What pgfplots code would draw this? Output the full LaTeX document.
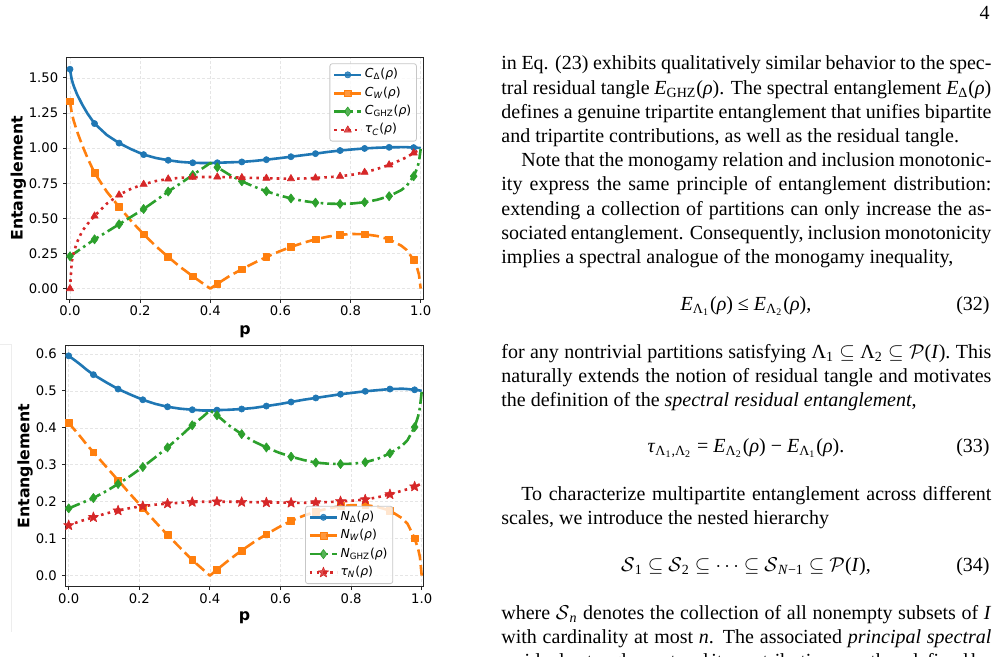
\documentclass[border=0pt]{standalone}
\usepackage{fontspec}
\setmainfont{Liberation Serif}
\newfontfamily\dejavu{DejaVu Sans}
\usepackage{pgfplots}
\usepackage{pgfplotstable}
\pgfplotsset{compat=1.18}

\definecolor{tabblue}{HTML}{1F77B4}
\definecolor{taborange}{HTML}{FF7F0E}
\definecolor{tabgreen}{HTML}{2CA02C}
\definecolor{tabred}{HTML}{D62728}

% filled five-pointed star
\pgfdeclareplotmark{fstar}{%
  \pgfpathmoveto{\pgfpointpolar{90}{\pgfplotmarksize}}%
  \pgfpathlineto{\pgfpointpolar{126}{0.42\pgfplotmarksize}}%
  \pgfpathlineto{\pgfpointpolar{162}{\pgfplotmarksize}}%
  \pgfpathlineto{\pgfpointpolar{198}{0.42\pgfplotmarksize}}%
  \pgfpathlineto{\pgfpointpolar{234}{\pgfplotmarksize}}%
  \pgfpathlineto{\pgfpointpolar{270}{0.42\pgfplotmarksize}}%
  \pgfpathlineto{\pgfpointpolar{306}{\pgfplotmarksize}}%
  \pgfpathlineto{\pgfpointpolar{342}{0.42\pgfplotmarksize}}%
  \pgfpathlineto{\pgfpointpolar{18}{\pgfplotmarksize}}%
  \pgfpathlineto{\pgfpointpolar{54}{0.42\pgfplotmarksize}}%
  \pgfpathclose
  \pgfusepathqfillstroke
}

% concurrence-based measures: p, Delta, W, GHZ, residual tangle
\pgfplotstableread{
p D W G T
0 1.562 1.334 0.230 0.000
0.005 1.488 1.250 0.238 0.190
0.01 1.447 1.200 0.247 0.250
0.02 1.384 1.120 0.264 0.330
0.035 1.310 1.020 0.290 0.410
0.05 1.246 0.930 0.316 0.460
0.07 1.175 0.824 0.351 0.517
0.105 1.094 0.690 0.404 0.605
0.14 1.036 0.582 0.458 0.667
0.175 0.992 0.480 0.512 0.712
0.21 0.954 0.387 0.567 0.743
0.245 0.930 0.302 0.628 0.766
0.28 0.914 0.225 0.691 0.781
0.315 0.902 0.153 0.749 0.789
0.35 0.896 0.088 0.809 0.793
0.38 0.894 0.035 0.860 0.795
0.40 0.894 0.000 0.894 0.795
0.42 0.896 0.034 0.864 0.795
0.455 0.899 0.090 0.810 0.793
0.49 0.902 0.138 0.764 0.790
0.525 0.909 0.183 0.726 0.788
0.56 0.918 0.225 0.693 0.786
0.595 0.928 0.263 0.665 0.784
0.63 0.939 0.297 0.642 0.783
0.665 0.950 0.326 0.624 0.784
0.70 0.961 0.351 0.612 0.788
0.735 0.973 0.370 0.605 0.793
0.77 0.983 0.383 0.603 0.800
0.805 0.991 0.389 0.606 0.811
0.84 0.998 0.387 0.615 0.828
0.875 1.003 0.375 0.632 0.851
0.91 1.006 0.351 0.658 0.881
0.945 1.007 0.305 0.702 0.918
0.96 1.007 0.275 0.732 0.936
0.98 1.004 0.204 0.800 0.966
0.99 1.003 0.145 0.858 0.980
0.995 1.002 0.100 0.902 0.987
1.0 1.000 0.000 0.995 0.995
}\concdata

% negativity-based measures: p, Delta, W, GHZ, residual tangle
\pgfplotstableread{
p D W G T
0 0.595 0.413 0.182 0.136
0.005 0.591 0.407 0.184 0.138
0.01 0.588 0.402 0.186 0.140
0.02 0.581 0.391 0.190 0.143
0.035 0.570 0.374 0.196 0.148
0.05 0.558 0.356 0.202 0.152
0.07 0.544 0.334 0.210 0.158
0.105 0.524 0.296 0.228 0.168
0.14 0.505 0.258 0.248 0.176
0.175 0.490 0.220 0.270 0.183
0.21 0.476 0.183 0.294 0.188
0.245 0.465 0.146 0.320 0.192
0.28 0.457 0.110 0.347 0.195
0.315 0.452 0.076 0.376 0.197
0.35 0.449 0.042 0.407 0.199
0.38 0.447 0.017 0.430 0.200
0.40 0.447 0.000 0.447 0.200
0.42 0.448 0.016 0.434 0.200
0.455 0.449 0.043 0.406 0.200
0.49 0.451 0.068 0.383 0.199
0.525 0.454 0.091 0.363 0.199
0.56 0.459 0.112 0.347 0.198
0.595 0.464 0.131 0.333 0.198
0.63 0.470 0.148 0.322 0.197
0.665 0.476 0.162 0.313 0.197
0.70 0.481 0.173 0.306 0.198
0.735 0.486 0.182 0.303 0.199
0.77 0.491 0.188 0.302 0.201
0.805 0.495 0.191 0.303 0.203
0.84 0.499 0.191 0.307 0.206
0.875 0.502 0.186 0.316 0.212
0.91 0.505 0.176 0.331 0.220
0.945 0.506 0.155 0.352 0.230
0.96 0.505 0.140 0.367 0.234
0.98 0.503 0.101 0.402 0.241
0.99 0.502 0.072 0.432 0.245
0.995 0.501 0.050 0.455 0.247
1.0 0.500 0.000 0.498 0.250
}\negdata

\pgfplotsset{
  /pgf/number format/assume math mode=true,
  mk/.style={mark indices={1,7,9,11,13,15,18,20,22,24,26,28,30,32,35}},
  sD/.style={tabblue, line width=1.3pt, mk, mark=*, mark size=1.55pt,
    mark options={solid, fill=tabblue, line width=0.3pt}},
  sW/.style={taborange, line width=1.3pt, dash pattern=on 5.5pt off 2.4pt, mk,
    mark=square*, mark size=1.7pt, mark options={solid, fill=taborange, line width=0.3pt}},
  sG/.style={tabgreen, line width=1.3pt, dash pattern=on 6pt off 2pt on 1.3pt off 2pt, mk,
    mark=diamond*, mark size=2.3pt, mark options={solid, fill=tabgreen, line width=0.3pt}},
  sT/.style={tabred, line width=1.3pt, dash pattern=on 1.3pt off 2.1pt, mk,
    mark size=2.1pt, mark options={solid, fill=tabred, line width=0.3pt}},
  entaxis/.style={
    scale only axis, anchor=south west,
    axis line style={black!85, line width=0.5pt},
    tick align=outside, tick pos=left,
    major tick length=1.7pt,
    every tick/.style={black!85, line width=0.5pt},
    xtick={0,0.2,0.4,0.6,0.8,1},
    xticklabel style={/pgf/number format/fixed, /pgf/number format/fixed zerofill,
      /pgf/number format/precision=1},
    ticklabel style={font=\dejavu\fontsize{6.6}{7.5}\selectfont},
    yticklabel style={xshift=1pt},
    grid=major, grid style={black!10, line width=0.3pt, dash pattern=on 1.5pt off 1pt},
    label style={font=\dejavu\bfseries\fontsize{7.9}{9}\selectfont},
    xlabel={p}, ylabel={Entanglement},
    every axis plot/.append style={line join=round},
    legend cell align=left,
    legend image code/.code={\draw[mark indices={2}] plot coordinates {(0pt,0pt) (6.8pt,0pt) (13.6pt,0pt)};},
    legend style={font=\dejavu\fontsize{6.2}{7}\selectfont,
      draw=black!22, line width=0.4pt, rounded corners=1.2pt,
      fill=white, fill opacity=0.8, text opacity=1, draw opacity=1,
      inner xsep=1.5pt, inner ysep=1.8pt, row sep=1.7pt,
      nodes={inner xsep=1.1pt, inner ysep=0.6pt, text height=4.6pt, text depth=1.7pt}},
  }
}

% one line of justified body text, and one set at its natural width
\newcommand\jline[2]{\node[anchor=base west, inner sep=0pt] at (250.5pt,#1pt)
  {\fontsize{10}{12}\selectfont\makebox[245pt][s]{#2}};}
\newcommand\nline[2]{\node[anchor=base west, inner sep=0pt] at (250.5pt,#1pt)
  {\fontsize{10}{12}\selectfont #2};}
\newcommand\eqline[3]{%
  \node[anchor=base, inner sep=0pt] at (373pt,#1pt) {\fontsize{10}{12}\selectfont #2};
  \node[anchor=base east, inner sep=0pt] at (495pt,#1pt) {\fontsize{10}{12}\selectfont #3};}

\newcommand\rh{\textit{ρ}}

\begin{document}
\begin{tikzpicture}
\path[use as bounding box] (0pt,0pt) rectangle (499pt,328.5pt);

% faint frame left of the lower panel
\draw[black!7, line width=0.5pt] (0pt,156pt) -- (5.5pt,156pt) -- (5.5pt,12.5pt);

% upper panel: concurrence
\begin{axis}[entaxis,
  at={(33.35pt,178.85pt)}, width=178.3pt, height=121pt,
  xmin=-0.0094, xmax=1.0074, ymin=-0.076, ymax=1.647,
  ytick={0,0.25,0.5,0.75,1,1.25,1.5},
  yticklabel style={/pgf/number format/fixed, /pgf/number format/fixed zerofill,
    /pgf/number format/precision=2},
  xticklabel style={yshift=2pt},
  xlabel style={at={(axis description cs:0.5,-0.132)}, anchor=center},
  ylabel style={at={(axis description cs:-0.1356,0.5)}, anchor=center},
  legend style={at={(axis description cs:0.982,0.975)}, anchor=north east},
]
\addplot[sD] table[x=p,y=D]{\concdata};
\addlegendentry{{\itshape C}\textsubscript{Δ}(\textit{ρ})}
\addplot[sW] table[x=p,y=W]{\concdata};
\addlegendentry{{\itshape C}\textsubscript{\itshape W}(\textit{ρ})}
\addplot[sG] table[x=p,y=G]{\concdata};
\addlegendentry{{\itshape C}\textsubscript{GHZ}(\textit{ρ})}
\addplot[sT, mark=triangle*] table[x=p,y=T]{\concdata};
\addlegendentry{{\itshape τ}\textsubscript{\itshape C}(\textit{ρ})}
\end{axis}

% lower panel: negativity
\begin{axis}[entaxis,
  at={(32.65pt,35.15pt)}, width=179.35pt, height=120.6pt,
  xmin=-0.0096, xmax=1.0065, ymin=-0.03, ymax=0.623,
  ytick={0,0.1,0.2,0.3,0.4,0.5,0.6},
  yticklabel style={/pgf/number format/fixed, /pgf/number format/fixed zerofill,
    /pgf/number format/precision=1},
  xticklabel style={yshift=1.5pt},
  xlabel style={at={(axis description cs:0.5,-0.13)}, anchor=center},
  ylabel style={at={(axis description cs:-0.112,0.5)}, anchor=center},
  legend style={at={(axis description cs:0.914,0.011)}, anchor=south east},
]
\addplot[sD] table[x=p,y=D]{\negdata};
\addlegendentry{{\itshape N}\textsubscript{Δ}(\textit{ρ})}
\addplot[sW] table[x=p,y=W]{\negdata};
\addlegendentry{{\itshape N}\textsubscript{\itshape W}(\textit{ρ})}
\addplot[sG] table[x=p,y=G]{\negdata};
\addlegendentry{{\itshape N}\textsubscript{GHZ}(\textit{ρ})}
\addplot[sT, mark=fstar, mark size=2.7pt] table[x=p,y=T]{\negdata};
\addlegendentry{{\itshape τ}\textsubscript{\itshape N}(\textit{ρ})}
\end{axis}

% page number
\node[anchor=base east, inner sep=0pt] at (495pt,318.5pt) {\fontsize{10}{12}\selectfont 4};

% body text
\jline{293.5}{in Eq. (23) exhibits qualitatively similar behavior to the spec-}
\jline{281.4}{tral residual tangle \textit{E}\textsubscript{GHZ}(\rh). The spectral entanglement \textit{E}\textsubscript{Δ}(\rh)}
\jline{269.3}{defines a genuine tripartite entanglement that unifies bipartite}
\nline{257.2}{and tripartite contributions, as well as the residual tangle.}
\jline{245.1}{\hspace{10pt}Note that the monogamy relation and inclusion monotonic-}
\jline{233}{ity express the same principle of entanglement distribution:}
\jline{220.9}{extending a collection of partitions can only increase the as-}
\jline{208.8}{sociated entanglement. Consequently, inclusion monotonicity}
\nline{196.7}{implies a spectral analogue of the monogamy inequality,}
\eqline{173}{\textit{E}\textsubscript{Λ\textsubscript{1}}(\rh) ≤ \textit{E}\textsubscript{Λ\textsubscript{2}}(\rh),}{(32)}
\jline{149.35}{for any nontrivial partitions satisfying Λ\textsubscript{1} $\subseteq$ Λ\textsubscript{2} $\subseteq$ $\mathcal{P}$(\textit{I}). This}
\jline{137.25}{naturally extends the notion of residual tangle and motivates}
\nline{125.15}{the definition of the \textit{spectral residual entanglement},}
\eqline{102}{\textit{τ}\textsubscript{Λ\textsubscript{1},Λ\textsubscript{2}} = \textit{E}\textsubscript{Λ\textsubscript{2}}(\rh) − \textit{E}\textsubscript{Λ\textsubscript{1}}(\rh).}{(33)}
\jline{78}{\hspace{10pt}To characterize multipartite entanglement across different}
\nline{66}{scales, we introduce the nested hierarchy}
\eqline{42.5}{$\mathcal{S}$\textsubscript{1} $\subseteq$ $\mathcal{S}$\textsubscript{2} $\subseteq$ $\cdots$ $\subseteq$ $\mathcal{S}$\textsubscript{\textit{N}−1} $\subseteq$ $\mathcal{P}$(\textit{I}),}{(34)}
\jline{18.5}{where $\mathcal{S}$\textsubscript{\textit{n}} denotes the collection of all nonempty subsets of \textit{I}}
\jline{6.5}{with cardinality at most \textit{n}. The associated \textit{principal spectral}}
\jline{-5.5}{residual entanglement and its contributions are then defined by}
\end{tikzpicture}
\end{document}
